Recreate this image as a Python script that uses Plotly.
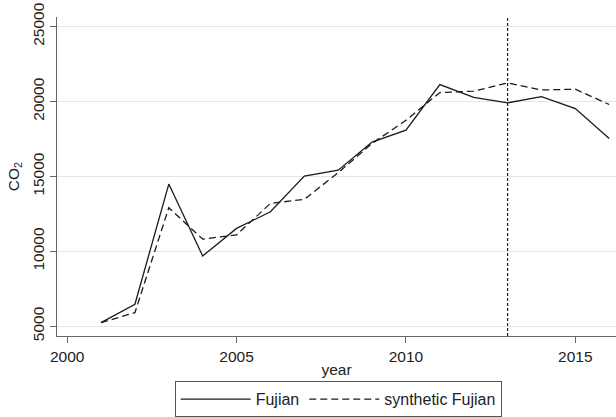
import plotly.graph_objects as go

years = list(range(2001, 2017))
fujian = [5240, 6470, 14490, 9690, 11530, 12640, 15020, 15420, 17290, 18090,
          21130, 20270, 19910, 20330, 19530, 17530]
synthetic = [5240, 5910, 12910, 10820, 11100, 13200, 13470, 15250, 17200, 18750,
             20600, 20690, 21240, 20770, 20820, 19800]
treat_year = 2013
x_ticks = [2000, 2005, 2010, 2015]
y_ticks = [5000, 10000, 15000, 20000, 25000]

FONT = "Liberation Sans, Arial, sans-serif"
fig = go.Figure()
fig.add_trace(go.Scatter(x=years, y=fujian, mode="lines", name="Fujian",
                         line=dict(color="#1a1a1a", width=1.3)))
fig.add_trace(go.Scatter(x=years, y=synthetic, mode="lines", name="synthetic Fujian",
                         line=dict(color="#1a1a1a", width=1.3, dash="7px,4px")))
fig.add_shape(type="line", x0=treat_year, x1=treat_year, y0=0, y1=1,
              xref="x", yref="paper", line=dict(color="#1a1a1a", width=1.2, dash="3px,2px"))

fig.update_layout(
    width=616, height=417,
    margin=dict(l=57, r=0, t=17, b=81, autoexpand=False),
    paper_bgcolor="white", plot_bgcolor="white",
    font=dict(family=FONT, size=15.5, color="#222"),
    showlegend=True,
    legend=dict(orientation="h", xref="paper", yref="paper", x=0.503, xanchor="center",
                y=-0.142, yanchor="top", bordercolor="#555", borderwidth=1,
                itemwidth=70, font=dict(size=16), bgcolor="white",
                tracegroupgap=0),
)
fig.update_xaxes(range=[1999.7, 2016.2], tickvals=x_ticks, showgrid=False,
                 showline=True, linecolor="#666", linewidth=1.2,
                 ticks="outside", ticklen=6, tickcolor="#666", automargin=False,
                 title=dict(text="year", standoff=0, font=dict(size=15.5)),
                 zeroline=False)
fig.update_yaxes(range=[4350, 25640], tickvals=y_ticks, tickformat="d", showgrid=True,
                 gridcolor="#e6e6e6", gridwidth=1, automargin=False,
                 ticklabeloverflow="allow",
                 showline=True, linecolor="#666", linewidth=1.2,
                 ticks="outside", ticklen=6, tickcolor="#666", tickangle=-90,
                 title=dict(text="CO<sub>2</sub>", standoff=6, font=dict(size=15.5)),
                 zeroline=False)

fig.write_html("out.html", config={"displayModeBar": False},
               post_script="document.body.style.margin='0';")
